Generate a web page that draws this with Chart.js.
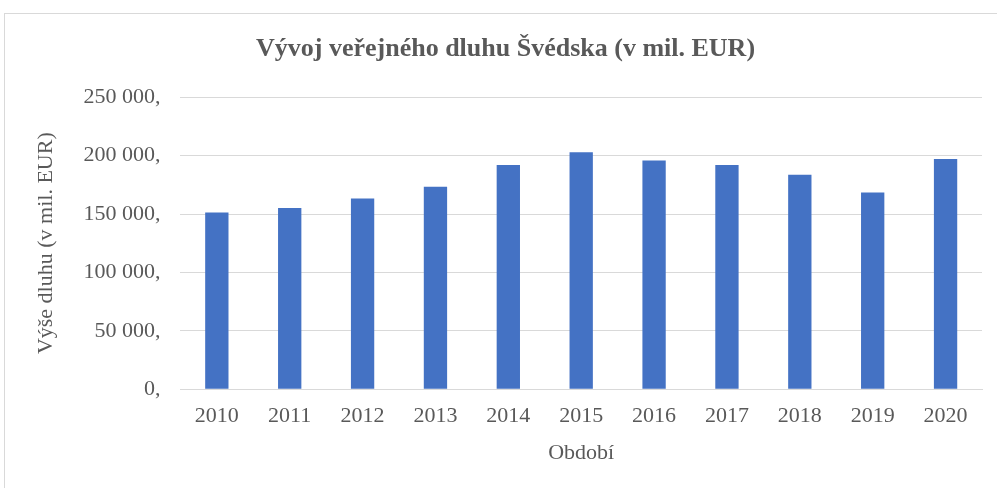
<!DOCTYPE html>
<html>
<head>
<meta charset="utf-8">
<script src="https://cdn.jsdelivr.net/npm/chart.js@4.4.0/dist/chart.umd.min.js"></script>
<style>
    html, body { margin: 0; padding: 0; background: #fff; }
    #ramecek {
        position: absolute; left: 4px; top: 13px; width: 1000px; height: 480px;
        border: 1px solid #d9d9d9; box-sizing: border-box;
    }
    #obal { position: absolute; left: 0; top: 0; width: 997px; height: 488px; }
</style>
</head>
<body>
<div id="ramecek"></div>
<div id="obal"><canvas id="grafDluh"></canvas></div>
<script>
// ========== DATA ==========
const roky = ["2010", "2011", "2012", "2013", "2014", "2015", "2016", "2017", "2018", "2019", "2020"];
const dluh = [151200, 155200, 163300, 173400, 191900, 202900, 195700, 191900, 183500, 168500, 197100];
const osaY = [0, 50000, 100000, 150000, 200000, 250000];

// "250 000," - format popisků jako v originále
function formatujPopisek(hodnota) {
    return String(hodnota).replace(/\B(?=(\d{3})+(?!\d))/g, " ") + ",";
}

const sedaText = "#595959";
const font = "'Liberation Serif', 'Times New Roman', serif";

const ctx = document.getElementById("grafDluh").getContext("2d");
new Chart(ctx, {
    type: "bar",
    data: {
        labels: roky,
        datasets: [{
            label: "Výše dluhu",
            data: dluh,
            backgroundColor: "#4472c4",
            borderWidth: 0,
            barPercentage: 0.32,
            categoryPercentage: 1
        }]
    },
    options: {
        responsive: true,
        maintainAspectRatio: false,
        animation: false,
        layout: { padding: { left: 29, right: 15, top: 24, bottom: 18 } },
        plugins: {
            legend: { display: false },
            tooltip: { enabled: false },
            title: {
                display: true,
                text: "Vývoj veřejného dluhu Švédska (v mil. EUR)",
                color: sedaText,
                font: { family: font, size: 26, weight: "bold" },
                padding: { top: 10, bottom: 32 }
            }
        },
        scales: {
            x: {
                grid: { display: false, drawTicks: false },
                border: { display: true, color: "#d9d9d9", width: 1 },
                ticks: { color: sedaText, font: { family: font, size: 22 }, padding: 14 },
                title: {
                    display: true, text: "Období", color: sedaText,
                    font: { family: font, size: 22 }, padding: { top: -4 }
                }
            },
            y: {
                min: 0,
                max: 250000,
                afterBuildTicks: function(osa) {
                    osa.ticks = osaY.map(v => ({ value: v }));
                },
                grid: { color: "#d9d9d9", lineWidth: 1, drawTicks: false },
                border: { display: false },
                ticks: {
                    color: sedaText, font: { family: font, size: 22 }, padding: 20,
                    callback: function(value) { return formatujPopisek(value); }
                },
                title: {
                    display: true, text: "Výše dluhu (v mil. EUR)", color: sedaText,
                    font: { family: font, size: 22 }, padding: { bottom: 4 }
                }
            }
        }
    }
});
</script>
</body>
</html>
